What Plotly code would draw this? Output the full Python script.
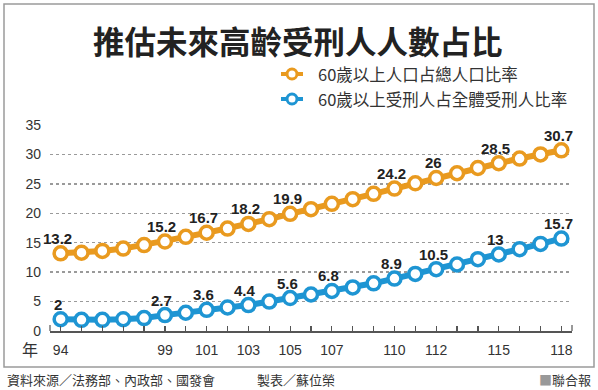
import plotly.graph_objects as go

years = list(range(94, 119))
pop_ratio = [13.2, 13.3, 13.6, 14.0, 14.6, 15.2, 16.0, 16.7, 17.4, 18.2, 19.0, 19.9,
             20.7, 21.6, 22.4, 23.3, 24.2, 25.1, 26.0, 26.8, 27.7, 28.5, 29.3, 30.0, 30.7]
inmate_ratio = [2.0, 1.9, 1.9, 2.0, 2.2, 2.7, 3.1, 3.6, 4.0, 4.4, 5.0, 5.6,
                6.2, 6.8, 7.4, 8.1, 8.9, 9.7, 10.5, 11.3, 12.2, 13.0, 13.9, 14.8, 15.7]
pop_label_years = [94, 99, 101, 103, 105, 110, 112, 115, 118]
inmate_label_years = [94, 99, 101, 103, 105, 107, 110, 112, 115, 118]
xtick_labels = [94, 99, 101, 103, 105, 107, 110, 112, 115, 118]
ytick_vals = [0, 5, 10, 15, 20, 25, 30, 35]
series_names = ["60歲以上人口占總人口比率", "60歲以上受刑人占全體受刑人比率"]
title_text = "推估未來高齡受刑人人數占比"

ORANGE = "#E99A1F"
BLUE = "#1E95D3"
FONT = "Liberation Sans, Arial, Noto Sans CJK TC, sans-serif"
CJK = "Noto Sans CJK TC, Liberation Sans, sans-serif"

W, H = 598, 390
L, R, T, B = 50, 26, 125, 59
PW, PH = W - L - R, H - T - B

def px(x):
    return (x - L) / PW

def py(y):
    return (H - B - y) / PH

fig = go.Figure()
for vals, color, name in [(pop_ratio, ORANGE, series_names[0]), (inmate_ratio, BLUE, series_names[1])]:
    fig.add_trace(go.Scatter(
        x=years, y=vals, mode="lines+markers", name=name, showlegend=False,
        line=dict(color=color, width=6),
        marker=dict(symbol="circle", size=13, color="white", line=dict(color=color, width=3.5)),
        cliponaxis=False, hoverinfo="skip",
    ))

annotations = []
for series, lab_years in [(pop_ratio, pop_label_years), (inmate_ratio, inmate_label_years)]:
    for yr in lab_years:
        v = series[years.index(yr)]
        txt = f"{v:g}"
        annotations.append(dict(
            x=yr, y=v, xref="x", yref="y", text=f"<b>{txt}</b>", showarrow=False,
            xshift=-3, yshift=15, font=dict(family=FONT, size=15, color="#222"),
        ))

# title
annotations.append(dict(x=px(298), y=py(40), xref="paper", yref="paper", text=f"<b>{title_text}</b>",
                        showarrow=False, xanchor="center", yanchor="middle",
                        font=dict(family=CJK, size=31.5, color="#222")))
# legend
shapes = []
for i, (name, color) in enumerate(zip(series_names, [ORANGE, BLUE])):
    yy = [74, 99][i]
    annotations.append(dict(x=px(316), y=py(yy), xref="paper", yref="paper", text=name,
                            showarrow=False, xanchor="left", yanchor="middle",
                            font=dict(family=CJK, size=16.5, color="#333")))
    shapes.append(dict(type="line", xref="paper", yref="paper", x0=px(281), x1=px(303),
                       y0=py(yy), y1=py(yy), line=dict(color=color, width=4)))
    shapes.append(dict(type="circle", xref="paper", yref="paper", x0=px(287), x1=px(297),
                       y0=py(yy - 5), y1=py(yy + 5), fillcolor="white", line=dict(color=color, width=3)))

# 年 label
annotations.append(dict(x=px(30), y=py(349), xref="paper", yref="paper", text="年", showarrow=False,
                        xanchor="center", yanchor="middle", font=dict(family=CJK, size=16, color="#333")))
# footer
fy = 379
annotations.append(dict(x=px(5), y=py(fy), xref="paper", yref="paper", text="資料來源／法務部、內政部、國發會",
                        showarrow=False, xanchor="left", yanchor="middle",
                        font=dict(family=CJK, size=13, color="#333")))
annotations.append(dict(x=px(255), y=py(fy), xref="paper", yref="paper", text="製表／蘇位榮",
                        showarrow=False, xanchor="left", yanchor="middle",
                        font=dict(family=CJK, size=13, color="#333")))
annotations.append(dict(x=px(593), y=py(fy), xref="paper", yref="paper",
                        text="<span style='color:#999'>■</span>聯合報",
                        showarrow=False, xanchor="right", yanchor="middle",
                        font=dict(family=CJK, size=13, color="#333")))

# frame
shapes.append(dict(type="rect", xref="paper", yref="paper", x0=px(4), x1=px(594), y0=py(4), y1=py(367),
                   line=dict(color="#9a9a9a", width=1.5), fillcolor="rgba(0,0,0,0)", layer="above"))
# axis end ticks
for xx in [0, 1]:
    shapes.append(dict(type="line", xref="paper", yref="paper", x0=xx, x1=xx, y0=py(331), y1=py(325),
                       line=dict(color="#555", width=1.2)))

fig.update_layout(
    width=W, height=H, margin=dict(l=L, r=R, t=T, b=B, autoexpand=False),
    paper_bgcolor="white", plot_bgcolor="white",
    showlegend=False, hovermode=False,
    annotations=annotations, shapes=shapes,
    xaxis=dict(
        range=[93.49, 118.51], tickmode="array", tickvals=years,
        ticktext=[str(y) if y in xtick_labels else "" for y in years],
        ticks="inside", ticklen=5, tickcolor="#555", tickwidth=1.2,
        showline=True, linecolor="#555", linewidth=1.5, showgrid=False, zeroline=False,
        tickfont=dict(family=FONT, size=14, color="#333"), ticklabelstandoff=6,
        automargin=False,
    ),
    yaxis=dict(
        range=[0, 35], tickmode="array", tickvals=ytick_vals,
        showgrid=True, gridcolor="#9a9a9a", griddash="dot", gridwidth=1.5,
        zeroline=False, showline=False, ticks="",
        tickfont=dict(family=FONT, size=14, color="#333"), ticklabelstandoff=8,
        automargin=False,
    ),
)

fig.write_html("out.html", config={"displayModeBar": False, "staticPlot": True},
               post_script="document.body.style.margin='0';document.body.style.overflow='hidden';")
